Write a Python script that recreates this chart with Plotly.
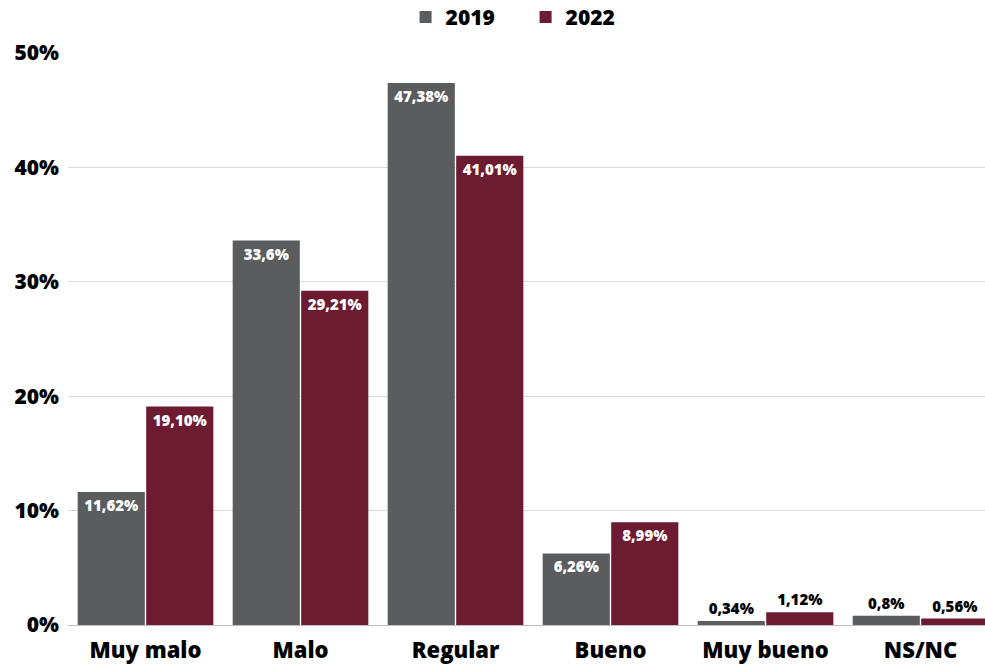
import plotly.graph_objects as go

categories = ["Muy malo", "Malo", "Regular", "Bueno", "Muy bueno", "NS/NC"]
values_2019 = [11.62, 33.6, 47.38, 6.26, 0.34, 0.8]
values_2022 = [19.10, 29.21, 41.01, 8.99, 1.12, 0.56]
labels_2019 = ["11,62%", "33,6%", "47,38%", "6,26%", "0,34%", "0,8%"]
labels_2022 = ["19,10%", "29,21%", "41,01%", "8,99%", "1,12%", "0,56%"]
y_ticks = [0, 10, 20, 30, 40, 50]
y_tick_labels = ["0%", "10%", "20%", "30%", "40%", "50%"]

GRAY = "#5b5c5e"
MAROON = "#6d1b31"
FONT = "Open Sans"
WEIGHT = 800


def positions(vals):
    return ["inside" if v > 3 else "outside" for v in vals]


def colors(vals):
    return ["white" if v > 3 else "black" for v in vals]


fig = go.Figure()
for name, vals, labels, color in [
    ("2019", values_2019, labels_2019, GRAY),
    ("2022", values_2022, labels_2022, MAROON),
]:
    fig.add_trace(go.Bar(
        name=name,
        x=categories,
        y=vals,
        text=labels,
        textposition=positions(vals),
        insidetextanchor="end",
        textangle=0,
        constraintext="none",
        cliponaxis=False,
        textfont=dict(family=FONT, size=15, color=colors(vals), weight=WEIGHT),
        marker=dict(color=color, line=dict(width=0)),
        hoverinfo="skip",
    ))

fig.update_layout(
    width=985,
    height=666,
    margin=dict(l=68, r=0, t=53, b=41, autoexpand=False),
    paper_bgcolor="white",
    plot_bgcolor="white",
    barmode="group",
    bargap=0.116,
    bargroupgap=0.02,
    font=dict(family=FONT, size=21, color="black", weight=WEIGHT),
    legend=dict(
        orientation="h",
        x=0.499,
        xanchor="center",
        y=1.098,
        yanchor="top",
        font=dict(family=FONT, size=21, color="black", weight=WEIGHT),
        itemwidth=30,
        entrywidth=75,
        entrywidthmode="pixels",
    ),
    xaxis=dict(
        range=[-0.5, 5.416],
        showgrid=False,
        showline=False,
        ticks="",
        ticklabelstandoff=10,
        tickfont=dict(family=FONT, size=22, color="black", weight=WEIGHT),
    ),
    yaxis=dict(
        range=[0, 50],
        tickvals=y_ticks,
        ticktext=y_tick_labels,
        showgrid=True,
        gridcolor="#d9d9d9",
        gridwidth=1,
        zeroline=True,
        zerolinecolor="#bfbfbf",
        zerolinewidth=1,
        ticks="",
        ticklabelstandoff=8,
        tickfont=dict(family=FONT, size=21, color="black", weight=WEIGHT),
    ),
)

fig.write_html("out.html")
